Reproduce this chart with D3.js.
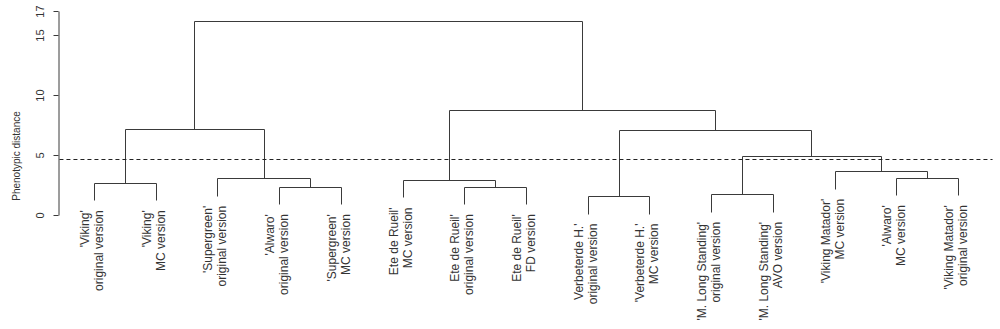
<!DOCTYPE html>
<html>
<head>
<meta charset="utf-8">
<script src="https://cdn.jsdelivr.net/npm/d3@7"></script>
<style>
  html, body { margin: 0; padding: 0; background: #fff; }
  svg { display: block; font-family: "Liberation Sans", Arial, sans-serif; }
</style>
</head>
<body>
<svg id="chart" width="1000" height="329"></svg>
<script>
// ---- data ----
const leafLabels = [
  ["'Viking'", "original version"],
  ["'Viking'", "MC version"],
  ["'Supergreen'", "original version"],
  ["'Alwaro'", "original version"],
  ["'Supergreen'", "MC version"],
  ["Ete de Rueil'", "MC version"],
  ["Ete de Rueil'", "original version"],
  ["Ete de Rueil'", "FD version"],
  ["Verbeterde H.'", "original version"],
  ["'Verbeterde H.'", "MC version"],
  ["'M. Long Standing'", "original version"],
  ["'M. Long Standing'", "AVO version"],
  ["'Viking Matador'", "MC version"],
  ["'Alwaro'", "MC version"],
  ["'Viking Matador'", "original version"]
];
// hclust-style merges: negative = leaf (1-based), positive = earlier merge (1-based)
const mergePairs = [
  [-9, -10], [-11, -12], [-4, -5], [-7, -8], [-1, -2], [-6, 4], [-3, 3],
  [-14, -15], [-13, 8], [2, 9], [5, 7], [1, 10], [6, 12], [11, 13]
];
const mergeHeights = [1.58, 1.72, 2.36, 2.36, 2.69, 2.92, 3.06, 3.11, 3.64, 4.94, 7.19, 7.11, 8.79, 16.17];
const cutHeight = 4.68;
const yTicks = [0, 5, 10, 15, 17];
const yTitle = "Phenotypic distance";

// ---- layout ----
const svg = d3.select("#chart");
const lineColor = "#3a3a3a";
const textColor = "#333";
const x = d3.scaleLinear().domain([1, leafLabels.length]).range([94, 958]);
const y = d3.scaleLinear().domain([0, 17]).range([215, 11]);
const plotLeft = x(1 - 0.04 * (leafLabels.length - 1));
const plotRight = x(leafLabels.length + 0.04 * (leafLabels.length - 1));
const hang = 0.1 * (d3.max(mergeHeights) - d3.min(mergeHeights));
const px = v => Math.round(v) + 0.5;

// node positions
const mergeX = [];
function nodeX(ref) { return ref < 0 ? x(-ref) : mergeX[ref - 1]; }
mergePairs.forEach((p, i) => { mergeX[i] = (nodeX(p[0]) + nodeX(p[1])) / 2; });

const segs = [];
const leafBottom = {};
mergePairs.forEach((p, i) => {
  const h = mergeHeights[i];
  const xl = nodeX(p[0]), xr = nodeX(p[1]);
  segs.push([xl, h, xr, h]);
  p.forEach(ref => {
    const cx = nodeX(ref);
    const ch = ref < 0 ? h - hang : mergeHeights[ref - 1];
    if (ref < 0) leafBottom[-ref] = ch;
    segs.push([cx, h, cx, ch]);
  });
});

const g = svg.append("g");
g.selectAll("line.seg").data(segs).join("line")
  .attr("class", "seg")
  .attr("x1", d => px(d[0])).attr("y1", d => px(y(d[1])))
  .attr("x2", d => px(d[2])).attr("y2", d => px(y(d[3])))
  .attr("stroke", lineColor).attr("stroke-width", 1);

// cut line
g.append("line")
  .attr("x1", plotLeft).attr("x2", plotRight)
  .attr("y1", px(y(cutHeight))).attr("y2", px(y(cutHeight)))
  .attr("stroke", "#222").attr("stroke-width", 1)
  .attr("stroke-dasharray", "4,3");

// leaf labels
const lab = g.selectAll("text.leaf").data(leafLabels).join("text")
  .attr("class", "leaf")
  .attr("transform", (d, i) => `translate(${x(i + 1)},${y(leafBottom[i + 1]) + 10}) rotate(-90)`)
  .attr("text-anchor", "end")
  .attr("font-size", 12)
  .attr("fill", textColor);
lab.append("tspan").attr("x", 0).attr("y", -5).text(d => d[0]);
lab.append("tspan").attr("x", 0).attr("y", 9).text(d => d[1]);

// y axis
const axis = svg.append("g")
  .attr("transform", `translate(58.5,0)`)
  .call(d3.axisLeft(y).tickValues(yTicks).tickSize(5).tickSizeOuter(0).tickFormat(d3.format("d")));
axis.select(".domain").attr("stroke", lineColor);
axis.selectAll(".tick line").attr("stroke", lineColor);
axis.selectAll(".tick text")
  .attr("x", null).attr("dy", null)
  .attr("transform", "translate(-14.5,0) rotate(-90)")
  .attr("text-anchor", "middle")
  .attr("font-size", 11)
  .attr("font-family", "Liberation Sans, Arial, sans-serif")
  .attr("fill", textColor);

svg.append("text")
  .attr("transform", `translate(19.5,156) rotate(-90)`)
  .attr("text-anchor", "middle")
  .attr("font-size", 10)
  .attr("fill", textColor)
  .text(yTitle);
</script>
</body>
</html>
